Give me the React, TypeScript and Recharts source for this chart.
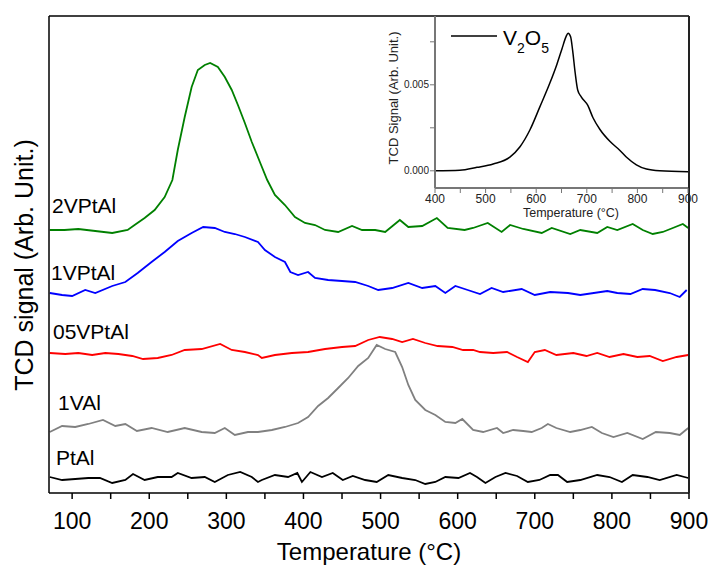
import { Line, LineChart, XAxis, YAxis } from 'recharts';

// main panel: temperature (°C) vs TCD signal (arb. units, stacked)
const tempTicks = [100, 150, 200, 250, 300, 350, 400, 450, 500, 550, 600, 650, 700, 750, 800, 850, 900];
const signalTicks = [15, 169, 323];

const twoVPtAl = [
  [71, 263], [90, 263], [108, 264], [130, 262], [152, 260], [172, 263], [181, 268], [194, 275],
  [207, 283], [220, 296], [230, 313], [237, 343], [246, 376], [255, 406], [263, 423], [272, 428],
  [279, 430], [289, 426], [298, 416], [307, 403], [315, 388], [324, 370], [333, 351], [344, 330],
  [353, 313], [363, 298], [376, 288], [389, 276], [402, 270], [415, 268], [428, 263], [445, 261],
  [463, 267], [476, 263], [493, 263], [506, 261], [525, 273], [536, 266], [554, 267], [573, 275],
  [587, 265], [609, 263], [620, 265], [639, 270], [657, 261], [668, 268], [685, 264], [709, 260],
  [722, 265], [746, 259], [759, 263], [781, 260], [794, 266], [807, 263], [827, 269], [840, 263],
  [853, 259], [866, 261], [879, 265], [892, 269], [899, 265],
];

const oneVPtAl = [
  [71, 200], [87, 198], [100, 197], [117, 203], [130, 200], [152, 207], [169, 211], [185, 220],
  [203, 231], [220, 241], [237, 252], [255, 260], [270, 266], [285, 265], [298, 261], [311, 259],
  [324, 256], [341, 251], [350, 243], [363, 236], [376, 231], [383, 221], [393, 218], [406, 221],
  [415, 215], [432, 213], [450, 212], [467, 211], [484, 207], [497, 203], [515, 205], [536, 210],
  [554, 205], [571, 207], [584, 200], [597, 207], [613, 203], [629, 199], [644, 205], [659, 201],
  [683, 204], [700, 198], [720, 201], [743, 200], [759, 198], [794, 202], [807, 200], [824, 199],
  [840, 204], [856, 203], [875, 200], [888, 196], [897, 203],
];

const halfVPtAl = [
  [71, 140], [91, 139], [108, 140], [126, 138], [143, 140], [160, 139], [178, 137], [192, 134],
  [211, 135], [229, 138], [246, 143], [268, 144], [292, 149], [307, 143], [324, 141], [341, 138],
  [346, 135], [363, 138], [385, 140], [406, 141], [428, 144], [450, 146], [467, 147], [484, 153],
  [499, 156], [515, 154], [528, 151], [542, 154], [558, 150], [574, 147], [593, 146], [607, 143],
  [620, 143], [629, 141], [646, 140], [664, 141], [677, 136], [691, 131], [700, 141], [713, 143],
  [728, 138], [750, 140], [767, 137], [781, 140], [797, 136], [815, 139], [833, 136], [849, 137],
  [866, 132], [884, 136], [899, 138],
];

const oneVAl = [
  [71, 61], [87, 67], [104, 66], [121, 69], [140, 73], [156, 67], [169, 69], [184, 62],
  [203, 65], [224, 61], [246, 65], [268, 61], [285, 60], [298, 65], [311, 58], [328, 61],
  [341, 61], [359, 63], [376, 66], [393, 70], [406, 76], [419, 87], [432, 95], [445, 105],
  [458, 115], [471, 127], [484, 135], [495, 148], [506, 144], [519, 141], [528, 126], [536, 108],
  [545, 93], [558, 83], [571, 78], [584, 71], [597, 70], [606, 74], [620, 63], [633, 61],
  [651, 65], [659, 60], [672, 63], [685, 62], [696, 61], [709, 65], [717, 69], [728, 65],
  [746, 61], [759, 63], [774, 66], [787, 60], [802, 56], [820, 60], [840, 54], [857, 61],
  [875, 60], [888, 58], [899, 65],
];

const ptAl = [
  [71, 16], [87, 13], [104, 14], [121, 15], [136, 15], [152, 10], [169, 13], [179, 19],
  [194, 13], [211, 16], [229, 16], [237, 20], [255, 15], [272, 16], [285, 11], [302, 18],
  [318, 21], [333, 16], [341, 11], [346, 13], [363, 18], [380, 16], [392, 20], [398, 11],
  [409, 21], [424, 16], [438, 20], [451, 13], [464, 17], [480, 13], [495, 11], [510, 18],
  [528, 15], [545, 13], [558, 9], [571, 11], [584, 16], [601, 15], [616, 20], [625, 16],
  [636, 10], [649, 16], [662, 20], [677, 17], [691, 11], [706, 13], [720, 18], [730, 18],
  [742, 11], [759, 13], [781, 18], [797, 16], [813, 11], [827, 18], [846, 16], [862, 13],
  [884, 18], [899, 15],
];

const seriesNames = ['2VPtAl', '1VPtAl', '05VPtAl', '1VAl', 'PtAl'];
const seriesValues = [twoVPtAl, oneVPtAl, halfVPtAl, oneVAl, ptAl];
const seriesColors = ['#008000', '#0000ff', '#ff0000', '#808080', '#000000'];

// inset: V2O5 reference
const insetTempTicks = [400, 450, 500, 550, 600, 650, 700, 750, 800, 850, 900];
const insetSignalTicks = [0, 0.0025, 0.005, 0.0075];
const v2o5 = [
  [400, 0], [449, 0.00003], [483, 0.0002], [515, 0.0004], [548, 0.0008], [568, 0.0014],
  [588, 0.0024], [607, 0.0037], [627, 0.0051], [641, 0.0062], [651, 0.0071], [659, 0.0078],
  [663, 0.008], [668, 0.0078], [672, 0.007], [677, 0.0057], [682, 0.0047], [689, 0.0043],
  [702, 0.0038], [712, 0.0031], [726, 0.0024], [746, 0.0017], [765, 0.0012], [778, 0.0008],
  [798, 0.00035], [818, 0.0001], [844, 0], [900, -0.00005],
];

const font = "'Liberation Sans', Arial, sans-serif";
const toPoints = (rows: number[][]) => rows.map(([t, v]) => ({ t, v }));

// label placement (left x, baseline y) for each trace name
const labelPos = [[52, 213], [51, 280], [53, 339], [58, 410], [56, 465]];

export default function App() {
  const axisStyle = { stroke: '#000', strokeWidth: 1.5 };
  const insetAxis = { stroke: '#777', strokeWidth: 2 };
  return (
    <div style={{ position: 'absolute', left: 0, top: 0, width: 713, height: 565, background: '#fff', fontFamily: font }}>
      <LineChart width={713} height={565} margin={{ top: 6, right: 14, bottom: 42, left: 39 }}>
        <XAxis
          xAxisId="b"
          type="number"
          dataKey="t"
          domain={[70, 900]}
          ticks={tempTicks}
          interval={0}
          allowDataOverflow
          height={30}
          tickSize={6}
          tickMargin={14}
          axisLine={axisStyle}
          tickLine={axisStyle}
          tick={{ fontSize: 23, fill: '#000', fontFamily: font }}
          tickFormatter={(v) => (v % 100 === 0 ? String(v) : '')}
        />
        <XAxis
          xAxisId="t"
          orientation="top"
          type="number"
          domain={[70, 900]}
          ticks={tempTicks}
          interval={0}
          allowDataOverflow
          height={10}
          tickSize={4}
          axisLine={axisStyle}
          tickLine={axisStyle}
          tick={false}
        />
        <YAxis
          yAxisId="l"
          type="number"
          domain={[0, 477]}
          ticks={signalTicks}
          allowDataOverflow
          width={10}
          tickSize={-5}
          axisLine={axisStyle}
          tickLine={axisStyle}
          tick={false}
        />
        <YAxis
          yAxisId="r"
          orientation="right"
          type="number"
          domain={[0, 477]}
          ticks={signalTicks}
          allowDataOverflow
          width={10}
          tickSize={-5}
          axisLine={{ stroke: '#222', strokeWidth: 2 }}
          tickLine={axisStyle}
          tick={false}
        />
        {seriesValues.map((rows, i) => (
          <Line
            key={seriesNames[i]}
            xAxisId="b"
            yAxisId="l"
            data={toPoints(rows)}
            dataKey="v"
            type="linear"
            stroke={seriesColors[i]}
            strokeWidth={1.8}
            dot={false}
            isAnimationActive={false}
          />
        ))}
      </LineChart>

      <div style={{ position: 'absolute', left: 370, top: 0 }}>
        <LineChart width={330} height={225} margin={{ top: 16, right: 12, bottom: 0, left: 20 }}>
          <XAxis
            type="number"
            dataKey="t"
            domain={[400, 900]}
            ticks={insetTempTicks}
            interval={0}
            allowDataOverflow
            height={37}
            tickSize={5}
            tickMargin={1}
            axisLine={insetAxis}
            tickLine={{ stroke: '#777', strokeWidth: 1 }}
            tick={{ fontSize: 12, fill: '#222', fontFamily: font }}
            tickFormatter={(v) => (v % 100 === 0 ? String(v) : '')}
          />
          <YAxis
            type="number"
            domain={[-0.001, 0.009]}
            ticks={insetSignalTicks}
            interval={0}
            allowDataOverflow
            width={45}
            tickSize={5}
            tickMargin={1}
            axisLine={insetAxis}
            tickLine={{ stroke: '#777', strokeWidth: 1 }}
            tick={{ fontSize: 10, fill: '#222', fontFamily: font }}
            tickFormatter={(v) => (v === 0 ? '0.000' : v === 0.005 ? '0.005' : '')}
          />
          <Line
            data={toPoints(v2o5)}
            dataKey="v"
            type="monotone"
            stroke="#000"
            strokeWidth={1.5}
            dot={false}
            isAnimationActive={false}
          />
        </LineChart>
      </div>

      <svg width={713} height={565} style={{ position: 'absolute', left: 0, top: 0, pointerEvents: 'none' }} fontFamily={font}>
        <text transform="translate(33,265) rotate(-90)" textAnchor="middle" fontSize={25} fill="#000">
          TCD signal (Arb. Unit.)
        </text>
        <text x={369} y={560} textAnchor="middle" fontSize={24} fill="#000">
          Temperature (°C)
        </text>
        {seriesNames.map((name, i) => (
          <text key={name} x={labelPos[i][0]} y={labelPos[i][1]} fontSize={21} fill="#000">
            {name}
          </text>
        ))}
        <text transform="translate(398,98) rotate(-90)" textAnchor="middle" fontSize={13} fill="#222">
          TCD Signal (Arb. Unit.)
        </text>
        <text x={571} y={217} textAnchor="middle" fontSize={12.5} fill="#222">
          Temperature (°C)
        </text>
        <line x1={451} y1={36} x2={497} y2={36} stroke="#000" strokeWidth={1.5} />
        <text x={503} y={45} fontSize={21} fill="#000">
          V<tspan dy={8} fontSize={14}>2</tspan>
          <tspan dy={-8} fontSize={21}>O</tspan>
          <tspan dy={8} fontSize={14}>5</tspan>
        </text>
      </svg>
    </div>
  );
}
